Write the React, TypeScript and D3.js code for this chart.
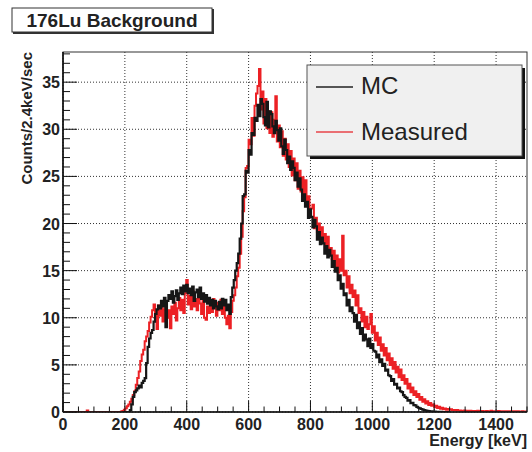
import React from "react";
import * as d3 from "d3";

const BIN_WIDTH = 4.8; // keV per drawn bin
const X_DOMAIN = [0, 1500];
const Y_DOMAIN = [0, 38.2];
const xTicks = [0, 200, 400, 600, 800, 1000, 1200, 1400];
const yTicks = [0, 5, 10, 15, 20, 25, 30, 35];
const titleText = "176Lu Background";
const xTitle = "Energy [keV]";
const yTitle = "Counts/2.4keV/sec";
const seriesNames = ["MC", "Measured"];

const mcStart = 192;
const mcCounts = [
  0, 0, 0, 0, 0, 0.2, 0.8, 1.6, 2.1, 2.3,
  2.5, 2.8, 2.6, 3.1, 3.3, 3.6, 5.2, 6.9, 7.8, 8.4,
  8.7, 9.6, 10.4, 10.9, 11.3, 11.0, 11.8, 11.2, 12.1, 9.0,
  11.8, 12.4, 12.0, 12.8, 11.6, 12.3, 12.9, 11.9, 12.6, 13.2,
  12.5, 13.4, 12.8, 13.5, 12.6, 13.1, 12.4, 13.3, 11.8, 12.7,
  13.0, 12.2, 13.2, 12.0, 12.6, 11.7, 12.4, 11.5, 12.1, 11.3,
  11.9, 11.0, 11.8, 11.2, 10.9, 11.7, 11.0, 12.0, 11.3, 11.9,
  10.8, 11.4, 10.4, 12.2, 13.2, 14.0, 15.0, 15.8, 16.8, 18.4,
  20.0, 22.9, 23.1, 25.6, 25.4, 27.8, 27.3, 29.6, 29.4, 31.2,
  30.9, 32.6, 31.4, 33.2, 32.7, 31.3, 30.4, 32.9, 30.2, 31.9,
  31.6, 30.3, 29.6, 30.9, 29.9, 28.8, 30.1, 28.2, 27.4, 28.9,
  27.8, 26.4, 27.1, 25.7, 26.6, 25.9, 24.6, 25.4, 23.9, 24.8,
  23.6, 22.4, 23.1, 21.8, 22.3, 20.6, 21.5, 20.7, 19.6, 20.4,
  19.7, 18.3, 19.1, 17.8, 18.5, 17.9, 16.8, 17.6, 16.4, 17.2,
  16.6, 15.4, 16.0, 14.9, 15.3, 14.0, 14.5, 13.1, 13.6, 12.4,
  12.6, 11.3, 11.9, 10.7, 11.1, 10.5, 9.6, 10.3, 8.9, 9.5,
  8.3, 8.9, 7.6, 8.2, 7.7, 7.0, 7.8, 6.8, 7.2, 6.5,
  6.4, 5.8, 6.1, 5.3, 5.6, 4.9, 5.1, 4.4, 4.5, 3.9,
  3.8, 3.3, 3.5, 2.9, 3.0, 2.5, 2.6, 2.2, 2.1, 1.8,
  1.6, 1.5, 1.2, 1.25, 0.95, 0.98, 0.72, 0.7, 0.55, 0.45,
  0.38, 0.32, 0.26, 0.2, 0.16, 0.12, 0.1, 0.08, 0.06, 0.04,
  0.03, 0.02, 0.02, 0.01, 0.01, 0, 0, 0, 0, 0,
];

const measuredStart = 0;
const measuredCounts = [
  0, 0, 0, 0, 0, 0, 0, 0, 0, 0,
  0, 0, 0, 0, 0, 0, 0.15, 0, 0, 0,
  0, 0, 0, 0, 0, 0, 0, 0, 0, 0,
  0, 0, 0, 0, 0, 0, 0, 0, 0, 0.05,
  0.1, 0.25, 0.4, 0.6, 0.8, 1.1, 1.4, 1.8, 2.2, 2.9,
  3.6, 4.3, 5.4, 6.1, 6.6, 7.5, 8.0, 8.6, 9.5, 10.1,
  10.8, 11.4, 10.6, 8.8, 11.3, 10.2, 11.6, 9.6, 10.9, 11.5,
  10.0, 10.8, 8.9, 11.2, 10.4, 11.6, 9.7, 11.0, 12.1, 10.8,
  11.9, 10.5, 12.6, 14.0, 11.4, 12.3, 10.9, 12.8, 11.2, 12.0,
  10.8, 12.4, 11.5, 10.4, 12.1, 10.0, 9.8, 11.2, 10.5, 11.8,
  10.6, 12.0, 11.1, 10.2, 11.6, 10.8, 11.9, 10.4, 11.2, 10.0,
  9.3, 10.2, 8.9, 10.6, 11.8, 12.4, 13.2, 14.4, 15.3, 16.8,
  18.6, 21.3, 22.8, 25.9, 26.1, 28.9, 28.4, 31.2, 29.3, 32.5,
  33.8, 34.6, 36.4, 32.1, 34.0, 30.6, 33.2, 30.1, 31.9, 29.6,
  31.8, 29.2, 31.0, 33.5, 28.7, 30.4, 28.1, 29.8, 27.2, 29.0,
  26.8, 28.4, 26.0, 27.7, 25.1, 26.9, 24.6, 26.4, 23.7, 25.6,
  23.4, 24.9, 22.5, 24.6, 21.9, 22.9, 20.8, 21.6, 22.0, 19.5,
  20.6, 19.1, 20.0, 18.4, 19.6, 18.0, 18.9, 17.2, 18.6, 16.7,
  17.4, 16.2, 17.1, 15.4, 16.6, 14.8, 16.2, 15.0, 18.7, 14.5,
  15.0, 13.2, 14.4, 12.6, 13.5, 12.2, 12.9, 11.3, 12.4, 10.5,
  11.0, 9.6, 10.6, 9.0, 10.1, 8.8, 9.3, 10.4, 8.4, 9.1,
  7.6, 8.4, 7.1, 7.9, 6.5, 7.2, 6.0, 6.8, 5.5, 6.2,
  5.0, 5.7, 4.6, 5.3, 4.2, 4.8, 3.7, 4.5, 3.4, 3.9,
  3.0, 3.5, 2.5, 3.0, 2.1, 2.6, 1.8, 2.2, 1.6, 1.9,
  1.3, 1.6, 1.1, 1.35, 0.9, 1.15, 0.75, 0.95, 0.65, 0.8,
  0.5, 0.65, 0.42, 0.55, 0.35, 0.45, 0.3, 0.38, 0.25, 0.32,
  0.25, 0.3, 0.2, 0.22, 0.18, 0.2, 0.15, 0.17, 0.14, 0.12,
  0.15, 0.1, 0.12, 0.1, 0.14, 0.08, 0.11, 0.1, 0.09, 0.12,
  0.1, 0.08, 0.11, 0.07, 0.09, 0.1, 0.06, 0.08, 0.12, 0.07,
  0.09, 0.06, 0.08, 0.1, 0.05, 0.07, 0.09, 0.06, 0.08, 0.05,
  0.07, 0.06, 0.09, 0.05, 0.08, 0.06, 0.07, 0.05, 0.06, 0.08,
  0.05, 0.06, 0.04,
];

const W = 532;
const H = 452;
const frame = { left: 63, right: 527, top: 52, bottom: 412 };
const FONT = "'Liberation Sans', Arial, Helvetica, sans-serif";

export default function App() {
  const x = d3.scaleLinear().domain(X_DOMAIN).range([frame.left, frame.right]);
  const y = d3.scaleLinear().domain(Y_DOMAIN).range([frame.bottom, frame.top]);

  const stepPath = (start: number, vals: number[]) => {
    const pts: [number, number][] = vals.map((v, i) => [start + i * BIN_WIDTH, v]);
    pts.push([start + vals.length * BIN_WIDTH, vals[vals.length - 1]]);
    return d3
      .line<[number, number]>()
      .x((d) => x(d[0]))
      .y((d) => y(d[1]))
      .curve(d3.curveStepAfter)(pts) as string;
  };

  const xMinor = d3.range(0, 1501, 50);
  const yMinor = d3.range(0, 38.01, 1);
  const majorLenX = 11;
  const majorLenY = 14;

  return (
    <svg
      width={W}
      height={H}
      style={{ position: "absolute", left: 0, top: 0, background: "#fff" }}
      fontFamily={FONT}
    >
      <defs>
        <clipPath id="frameClip">
          <rect x={frame.left} y={frame.top} width={frame.right - frame.left} height={frame.bottom - frame.top} />
        </clipPath>
      </defs>
      <rect x={0} y={0} width={W} height={H} fill="#fff" />

      {/* title box */}
      <rect x={13} y={9} width={201} height={25} fill="#333" />
      <rect x={12} y={8} width={200} height={24} fill="#fff" stroke="#333" strokeWidth={1} />
      <text x={112} y={27} textAnchor="middle" fontSize={19} fontWeight="bold" fill="#222">
        {titleText}
      </text>

      {/* grid */}
      <g stroke="#333" strokeWidth={1} strokeDasharray="1 2">
        {xTicks.map((t) => (
          <line key={"gx" + t} x1={x(t)} x2={x(t)} y1={frame.top} y2={frame.bottom} />
        ))}
        {yTicks.map((t) => (
          <line key={"gy" + t} x1={frame.left} x2={frame.right} y1={y(t)} y2={y(t)} />
        ))}
      </g>

      {/* histograms */}
      <g clipPath="url(#frameClip)" fill="none" strokeLinejoin="miter">
        <path d={stepPath(measuredStart, measuredCounts)} stroke="#ec2024" strokeWidth={2} />
        <path d={stepPath(mcStart, mcCounts)} stroke="#161616" strokeWidth={2.2} />
      </g>

      {/* frame */}
      <rect
        x={frame.left}
        y={frame.top}
        width={frame.right - frame.left}
        height={frame.bottom - frame.top}
        fill="none"
        stroke="#333"
        strokeWidth={1}
      />
      <line x1={frame.left} x2={frame.right} y1={frame.bottom} y2={frame.bottom} stroke="#111" strokeWidth={1.6} />
      <line x1={frame.left} x2={frame.left} y1={frame.top} y2={frame.bottom} stroke="#111" strokeWidth={1.6} />

      {/* ticks */}
      <g stroke="#111" strokeWidth={1}>
        {xMinor.map((t) => (
          <line
            key={"xt" + t}
            x1={x(t)}
            x2={x(t)}
            y1={frame.bottom}
            y2={frame.bottom - (t % 200 === 0 ? majorLenX : majorLenX / 2)}
          />
        ))}
        {yMinor.map((t) => (
          <line
            key={"yt" + t}
            x1={frame.left}
            x2={frame.left + (t % 5 === 0 ? majorLenY : majorLenY / 2)}
            y1={y(t)}
            y2={y(t)}
          />
        ))}
      </g>

      {/* tick labels */}
      <g fontSize={16} fontWeight="bold" fill="#222">
        {xTicks.map((t) => (
          <text key={"xl" + t} x={x(t)} y={frame.bottom + 18} textAnchor="middle">
            {t}
          </text>
        ))}
        {yTicks.map((t) => (
          <text key={"yl" + t} x={frame.left - 3} y={y(t) + 6} textAnchor="end">
            {t}
          </text>
        ))}
      </g>

      {/* axis titles */}
      <text x={frame.right} y={446} textAnchor="end" fontSize={16} fontWeight="bold" fill="#222">
        {xTitle}
      </text>
      <text
        transform={`translate(32, ${frame.top}) rotate(-90)`}
        textAnchor="end"
        fontSize={15}
        fontWeight="bold"
        fill="#222"
      >
        {yTitle}
      </text>

      {/* legend */}
      <rect x={310} y={68} width={215} height={91} fill="#111" />
      <rect x={307} y={65} width={215} height={91} fill="#f0f0f0" stroke="#555" strokeWidth={1} />
      <line x1={316} x2={353} y1={87} y2={87} stroke="#222" strokeWidth={1.5} />
      <text x={361} y={94} fontSize={24} fill="#222">
        {seriesNames[0]}
      </text>
      <line x1={316} x2={353} y1={132} y2={132} stroke="#e8454a" strokeWidth={1.5} />
      <text x={361} y={140} fontSize={24} fill="#222">
        {seriesNames[1]}
      </text>
    </svg>
  );
}
